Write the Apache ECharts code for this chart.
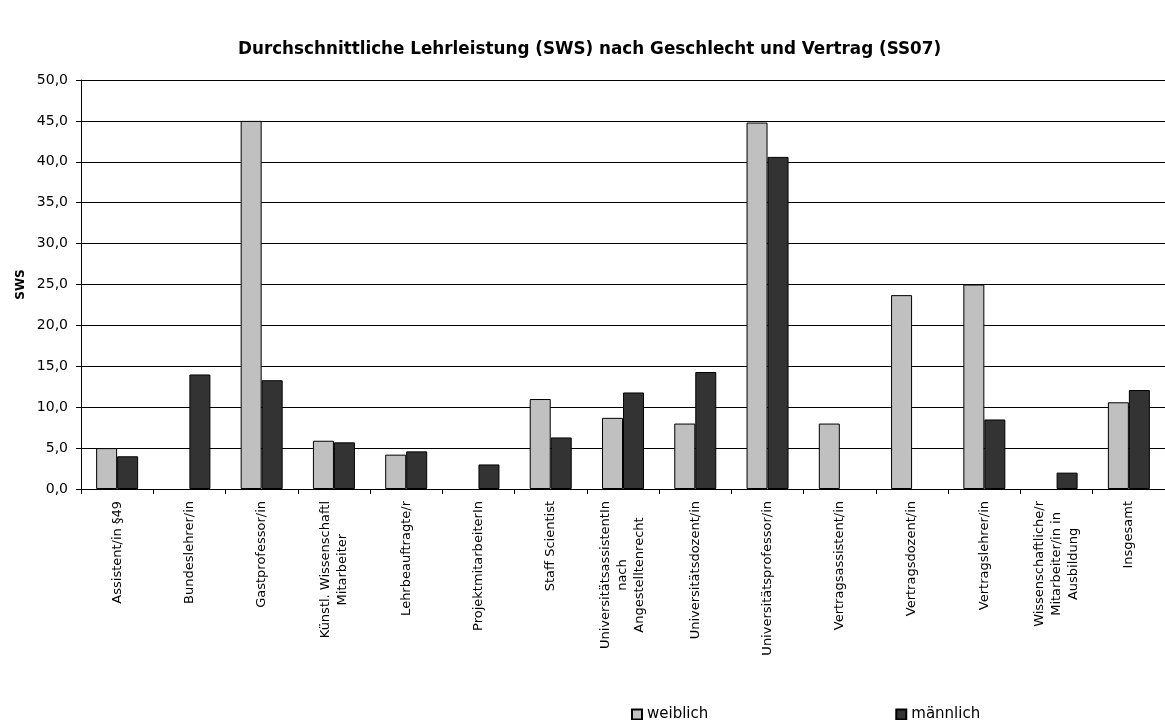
<!DOCTYPE html>
<html>
<head>
<meta charset="utf-8">
<script src="https://cdn.jsdelivr.net/npm/echarts@6/dist/echarts.min.js"></script>
<style>
  html, body { margin: 0; padding: 0; background: #fff; }
  #chart { width: 1165px; height: 720px; }
</style>
</head>
<body>
<div id="chart"></div>
<script>
// Contract categories (line breaks as shown under the axis)
const categories = [
  'Assistent/in §49',
  'Bundeslehrer/in',
  'Gastprofessor/in',
  'Künstl. Wissenschaftl\nMitarbeiter',
  'Lehrbeauftragte/r',
  'ProjektmitarbeiterIn',
  'Staff Scientist',
  'UniversitätsassistentIn\nnach\nAngestelltenrecht',
  'Universitätsdozent/in',
  'Universitätsprofessor/in',
  'Vertragsassistent/in',
  'Vertragsdozent/in',
  'Vertragslehrer/in',
  'Wissenschaftliche/r\nMitarbeiter/in in\nAusbildung',
  'Insgesamt'
];

// Average teaching load (SWS); null = no value
const weiblich = [5.0, null, 45.0, 5.9, 4.2, null, 11.0, 8.7, 8.0, 44.8, 8.0, 23.7, 25.0, null, 10.6];
const maennlich = [4.0, 14.0, 13.3, 5.7, 4.6, 3.0, 6.3, 11.8, 14.3, 40.6, null, null, 8.5, 2.0, 12.1];

const seriesNames = ['weiblich', 'männlich'];
const yTicks = { min: 0, max: 50, interval: 5 };

const FONT = 'DejaVu Sans';

const chart = echarts.init(document.getElementById('chart'), null, { renderer: 'canvas' });

chart.setOption({
  backgroundColor: '#ffffff',
  animation: false,
  title: {
    text: 'Durchschnittliche Lehrleistung (SWS) nach Geschlecht und Vertrag (SS07)',
    left: 233,
    top: 36,
    textStyle: { fontFamily: FONT, fontSize: 16.8, fontWeight: 'bold', color: '#000' }
  },
  legend: {
    left: 626,
    top: 702,
    itemWidth: 10,
    itemHeight: 10,
    itemGap: 187,
    textStyle: { fontFamily: FONT, fontSize: 15, color: '#000' },
    data: seriesNames.map(n => ({ name: n, icon: 'rect' }))
  },
  grid: { left: 81, top: 80, right: 0, height: 409, containLabel: false },
  xAxis: {
    type: 'category',
    data: categories,
    axisLine: { lineStyle: { color: '#000', width: 1 } },
    axisTick: { show: true, length: 5, inside: false, alignWithLabel: false, lineStyle: { color: '#000' } },
    axisLabel: {
      interval: 0,
      rotate: 90,
      margin: 12,
      fontFamily: FONT,
      fontSize: 13,
      color: '#000',
      lineHeight: 17,
      formatter: v => v.split('\n').map(l => '{c|' + l + '}').join('\n'),
      rich: { c: { align: 'center', fontFamily: FONT, fontSize: 13, color: '#000', lineHeight: 17 } }
    }
  },
  yAxis: {
    type: 'value',
    min: yTicks.min,
    max: yTicks.max,
    interval: yTicks.interval,
    name: 'SWS',
    nameLocation: 'middle',
    nameGap: 54,
    nameMoveOverlap: false,
    nameTextStyle: { fontFamily: FONT, fontSize: 12, fontWeight: 'bold', color: '#000' },
    axisLine: { show: true, lineStyle: { color: '#000', width: 1 } },
    axisTick: { show: true, length: 5, lineStyle: { color: '#000' } },
    axisLabel: {
      fontFamily: FONT,
      fontSize: 14,
      color: '#000',
      margin: 13,
      formatter: v => v.toFixed(1).replace('.', ',')
    },
    splitLine: { show: true, lineStyle: { color: '#000', width: 1 } }
  },
  series: [
    {
      name: seriesNames[0],
      type: 'bar',
      data: weiblich,
      barWidth: 21,
      barGap: '0%',
      itemStyle: { color: '#c0c0c0', borderColor: '#000', borderWidth: 1 }
    },
    {
      name: seriesNames[1],
      type: 'bar',
      data: maennlich,
      barWidth: 21,
      barGap: '0%',
      itemStyle: { color: '#333333', borderColor: '#000', borderWidth: 1 }
    }
  ]
});
</script>
</body>
</html>
